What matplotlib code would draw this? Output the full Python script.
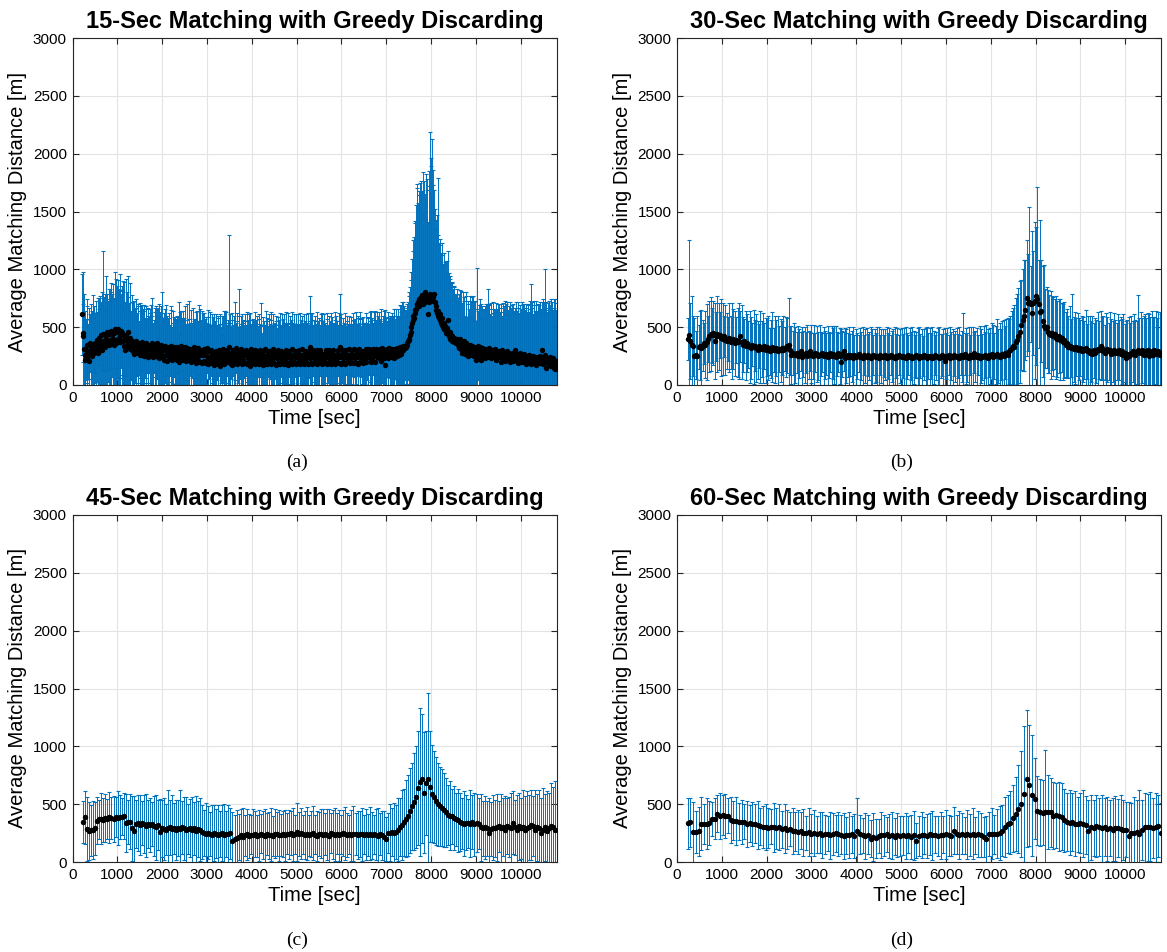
import numpy as np
import matplotlib
matplotlib.use("Agg")
import matplotlib.pyplot as plt

# ---- data ----
titles = ["15-Sec Matching with Greedy Discarding",
          "30-Sec Matching with Greedy Discarding",
          "45-Sec Matching with Greedy Discarding",
          "60-Sec Matching with Greedy Discarding"]
captions = ["(a)", "(b)", "(c)", "(d)"]

# time axis: first sample, last sample, step [sec]
t15 = np.arange(210, 10801, 15)
t30 = np.arange(240, 10801, 30)
t45 = np.arange(240, 10771, 45)
t60 = np.arange(240, 10801, 60)

mean15 = [
    610, 420, 450, 310, 260, 220, 300, 240, 350, 290, 210, 270, 360, 280, 330, 250, 300, 350, 280, 320,
    360, 300, 330, 390, 280, 370, 410, 320, 350, 430, 300, 380, 440, 340, 390, 330, 420, 460, 360, 380,
    350, 440, 390, 470, 360, 430, 400, 350, 450, 480, 390, 360, 460, 400, 480, 410, 370, 440, 470, 380,
    450, 380, 340, 420, 300, 400, 430, 350, 460, 370, 330, 310, 410, 340, 300, 380, 290, 360, 270, 340,
    380, 300, 350, 280, 360, 320, 260, 350, 300, 270, 370, 290, 330, 250, 320, 360, 280, 340, 240, 310,
    350, 270, 320, 260, 360, 300, 240, 330, 280, 350, 250, 300, 360, 280, 230, 330, 300, 260, 350, 290,
    250, 320, 220, 300, 340, 260, 310, 210, 280, 330, 240, 300, 340, 260, 220, 310, 270, 330, 240, 300,
    290, 220, 330, 260, 310, 200, 280, 340, 240, 290, 310, 220, 270, 330, 250, 210, 300, 320, 240, 270,
    230, 310, 270, 200, 300, 250, 330, 220, 280, 190, 300, 250, 320, 220, 270, 200, 300, 260, 190, 280,
    260, 310, 210, 290, 190, 260, 320, 230, 180, 290, 240, 210, 300, 190, 270, 240, 170, 280, 220, 290,
    200, 280, 250, 180, 300, 220, 160, 260, 290, 200, 310, 230, 180, 280, 250, 200, 300, 220, 270, 330,
    240, 190, 280, 220, 170, 300, 250, 200, 280, 320, 220, 180, 260, 300, 200, 280, 230, 310, 180, 260,
    220, 290, 190, 260, 300, 180, 270, 230, 290, 200, 160, 260, 310, 220, 190, 280, 250, 180, 300, 230,
    260, 200, 290, 230, 180, 300, 220, 270, 190, 290, 170, 250, 230, 310, 200, 260, 180, 290, 240, 200,
    290, 230, 180, 260, 310, 200, 240, 290, 170, 260, 230, 190, 300, 260, 180, 230, 290, 200, 270, 240,
    180, 270, 230, 300, 200, 260, 170, 240, 290, 200, 270, 230, 180, 310, 240, 200, 260, 290, 180, 240,
    270, 200, 240, 300, 180, 260, 230, 200, 310, 240, 270, 180, 230, 290, 200, 260, 240, 180, 290, 330,
    230, 190, 270, 180, 300, 230, 270, 200, 240, 300, 180, 260, 210, 240, 300, 260, 200, 180, 270, 230,
    200, 270, 230, 300, 180, 240, 270, 200, 300, 230, 180, 270, 210, 240, 300, 260, 180, 240, 200, 270,
    230, 300, 190, 260, 330, 240, 180, 270, 300, 200, 240, 270, 180, 300, 230, 200, 260, 310, 230, 190,
    270, 230, 300, 190, 260, 310, 230, 190, 270, 300, 180, 240, 310, 260, 200, 290, 230, 270, 190, 290,
    230, 270, 310, 200, 290, 240, 270, 310, 230, 290, 200, 260, 230, 310, 260, 290, 200, 260, 310, 240,
    290, 260, 230, 310, 260, 210, 280, 320, 250, 230, 300, 170, 280, 250, 310, 230, 280, 320, 250, 300,
    270, 240, 310, 290, 230, 270, 310, 260, 250, 320, 280, 260, 300, 330, 270, 310, 290, 340, 300, 320,
    320, 340, 330, 360, 350, 380, 400, 390, 430, 460, 500, 540, 560, 600, 580, 620, 650, 660, 700, 690,
    720, 680, 740, 700, 760, 730, 780, 740, 700, 760, 800, 720, 770, 740, 780, 610, 750, 720, 790, 760,
    740, 780, 730, 760, 790, 720, 680, 650, 620, 640, 600, 580, 610, 560, 540, 580, 520, 500, 540, 480,
    510, 470, 450, 490, 560, 440, 420, 460, 400, 430, 380, 420, 400, 370, 410, 390, 360, 380, 400, 350,
    380, 320, 360, 400, 310, 350, 280, 340, 380, 300, 270, 360, 320, 290, 350, 250, 330, 280, 350, 300,
    260, 340, 300, 250, 330, 290, 220, 320, 270, 340, 240, 290, 330, 260, 220, 320, 280, 240, 310, 230,
    310, 280, 240, 300, 270, 320, 250, 290, 230, 270, 300, 260, 280, 240, 310, 270, 220, 290, 260, 250,
    290, 240, 270, 200, 260, 300, 230, 280, 250, 210, 270, 240, 290, 220, 260, 280, 240, 200, 270, 250,
    230, 280, 210, 260, 240, 300, 220, 270, 250, 190, 260, 230, 280, 240, 200, 260, 230, 270, 210, 250,
    220, 180, 250, 230, 200, 260, 210, 240, 180, 230, 200, 250, 220, 190, 240, 210, 170, 230, 200, 240,
    210, 250, 190, 230, 300, 220, 180, 240, 200, 260, 210, 150, 230, 190, 220, 170, 240, 200, 160, 220,
    180, 230, 150, 200, 140, 210, 170]
err15 = [
    350, 560, 250, 480, 310, 420, 260, 500, 330, 240, 460, 300, 250, 420, 280, 390, 480, 230, 400, 300,
    260, 430, 300, 220, 470, 380, 250, 450, 340, 290, 500, 780, 310, 420, 270, 460, 520, 330, 430, 350,
    480, 300, 440, 330, 520, 360, 470, 380, 300, 500, 350, 560, 400, 510, 330, 420, 590, 380, 320, 480,
    360, 520, 330, 470, 420, 320, 490, 450, 300, 570, 380, 330, 470, 300, 480, 340, 430, 280, 460, 320,
    290, 440, 270, 400, 340, 230, 450, 290, 380, 420, 250, 370, 310, 440, 260, 300, 400, 240, 430, 290,
    250, 390, 300, 430, 240, 450, 300, 230, 390, 280, 430, 250, 310, 380, 470, 260, 330, 420, 240, 510,
    330, 240, 400, 260, 320, 430, 230, 390, 300, 250, 380, 220, 310, 420, 280, 230, 370, 260, 330, 290,
    270, 380, 230, 330, 410, 250, 350, 220, 400, 290, 250, 420, 310, 230, 430, 320, 260, 380, 290, 460,
    340, 230, 380, 300, 240, 420, 220, 350, 290, 440, 240, 390, 230, 330, 420, 250, 360, 300, 450, 230,
    360, 240, 410, 280, 400, 250, 220, 360, 470, 240, 390, 300, 220, 420, 250, 350, 440, 230, 330, 220,
    410, 240, 330, 420, 220, 310, 450, 240, 310, 230, 290, 410, 250, 360, 290, 430, 220, 340, 250, 970,
    300, 420, 230, 340, 450, 220, 350, 520, 240, 220, 330, 440, 240, 300, 630, 230, 370, 220, 430, 280,
    340, 230, 420, 290, 220, 450, 240, 330, 220, 410, 460, 250, 220, 340, 380, 240, 300, 450, 220, 330,
    270, 400, 220, 340, 430, 230, 300, 440, 260, 220, 420, 300, 260, 210, 440, 290, 400, 220, 330, 410,
    240, 330, 450, 260, 210, 410, 300, 240, 430, 290, 260, 400, 220, 300, 440, 270, 220, 410, 250, 330,
    430, 260, 310, 220, 430, 270, 450, 300, 220, 400, 260, 330, 450, 210, 300, 410, 260, 220, 430, 290,
    250, 410, 290, 220, 440, 260, 330, 400, 210, 300, 250, 430, 320, 220, 410, 270, 300, 440, 230, 440,
    320, 420, 240, 440, 220, 330, 280, 400, 290, 220, 450, 290, 370, 250, 220, 300, 410, 440, 250, 320,
    410, 250, 310, 220, 440, 330, 250, 400, 220, 320, 440, 260, 380, 300, 220, 270, 450, 320, 400, 250,
    320, 220, 430, 260, 460, 340, 430, 250, 220, 380, 300, 260, 440, 210, 320, 400, 260, 220, 370, 330,
    260, 360, 220, 430, 300, 240, 340, 440, 260, 220, 420, 340, 230, 310, 430, 220, 350, 260, 400, 250,
    310, 260, 220, 420, 250, 350, 310, 220, 400, 260, 440, 300, 350, 220, 280, 340, 440, 300, 220, 390,
    250, 340, 400, 240, 310, 450, 260, 220, 350, 410, 250, 480, 300, 340, 240, 400, 300, 260, 350, 300,
    320, 380, 250, 310, 430, 330, 260, 400, 350, 280, 380, 340, 270, 360, 410, 320, 430, 330, 420, 360,
    280, 300, 320, 310, 350, 340, 400, 380, 420, 450, 480, 550, 600, 650, 700, 800, 750, 900, 1000, 1050,
    850, 1000, 900, 1050, 1000, 950, 900, 1100, 800, 1000, 850, 900, 1050, 950, 1000, 800, 1100, 1000, 1400, 1200,
    1150, 1350, 1000, 1100, 900, 800, 750, 700, 850, 1150, 700, 650, 600, 700, 600, 650, 600, 550, 600, 550,
    550, 600, 520, 580, 600, 500, 550, 480, 520, 450, 500, 470, 430, 480, 450, 400, 420, 380, 430, 400,
    350, 470, 330, 420, 500, 360, 320, 460, 380, 430, 330, 410, 480, 300, 380, 450, 330, 300, 420, 430,
    340, 420, 470, 310, 390, 440, 330, 690, 390, 300, 450, 350, 410, 320, 480, 360, 300, 420, 340, 450,
    330, 420, 460, 330, 560, 370, 450, 320, 480, 390, 300, 460, 340, 420, 310, 380, 490, 340, 400, 450,
    330, 460, 360, 500, 410, 300, 480, 350, 430, 520, 340, 460, 320, 500, 390, 330, 440, 520, 350, 420,
    460, 340, 490, 380, 430, 310, 500, 370, 420, 530, 360, 460, 330, 420, 520, 360, 470, 330, 490, 400,
    450, 520, 380, 460, 500, 370, 520, 420, 690, 440, 520, 360, 470, 540, 400, 480, 560, 410, 500, 390,
    480, 360, 530, 430, 330, 500, 560, 420, 520, 740, 440, 570, 400, 520, 450, 560, 380, 490, 580, 430,
    540, 420, 590, 470, 600, 440, 540]

mean30 = [
    400, 430, 380, 350, 340, 250, 260, 250, 330, 340, 320, 340, 360, 350, 370, 400, 420, 440, 430, 450,
    380, 420, 440, 420, 430, 410, 400, 420, 390, 380, 400, 410, 370, 380, 400, 360, 390, 370, 380, 420,
    370, 350, 380, 340, 360, 350, 330, 320, 350, 330, 340, 320, 300, 340, 330, 310, 320, 340, 300, 330,
    320, 290, 310, 330, 300, 310, 320, 290, 310, 300, 320, 300, 310, 330, 340, 350, 300, 260, 280, 270,
    260, 280, 250, 270, 290, 240, 270, 260, 280, 250, 260, 290, 270, 250, 260, 280, 270, 250, 260, 270,
    280, 250, 260, 270, 240, 260, 280, 250, 270, 260, 240, 270, 280, 250, 200, 270, 290, 230, 250, 260,
    240, 260, 250, 230, 260, 240, 250, 270, 240, 250, 230, 260, 250, 240, 260, 250, 230, 240, 260, 250,
    240, 250, 230, 260, 250, 240, 250, 260, 230, 250, 240, 260, 250, 240, 230, 250, 240, 260, 250, 240,
    250, 240, 230, 250, 260, 240, 250, 230, 240, 250, 260, 240, 230, 250, 240, 250, 260, 240, 230, 250,
    240, 250, 230, 240, 260, 250, 240, 230, 250, 260, 240, 210, 250, 240, 260, 230, 250, 240, 260, 250,
    240, 250, 230, 260, 250, 240, 270, 250, 240, 230, 260, 250, 240, 280, 250, 240, 260, 230, 250, 240,
    250, 260, 240, 230, 260, 250, 270, 240, 250, 260, 270, 250, 240, 260, 270, 250, 280, 270, 260, 290,
    300, 320, 340, 330, 370, 390, 420, 460, 520, 560, 600, 650, 750, 710, 720, 700, 620, 710, 730, 770,
    740, 700, 630, 640, 550, 510, 490, 500, 460, 440, 430, 450, 420, 440, 410, 400, 420, 390, 410, 370,
    390, 350, 360, 330, 340, 320, 330, 310, 320, 330, 300, 310, 320, 290, 310, 300, 320, 290, 300, 280,
    290, 270, 300, 280, 290, 310, 300, 340, 320, 290, 280, 300, 310, 290, 300, 270, 290, 300, 280, 290,
    280, 300, 270, 290, 260, 280, 230, 270, 250, 260, 280, 290, 270, 260, 280, 300, 290, 280, 300, 260,
    270, 290, 300, 250, 280, 290, 260, 300, 280, 270, 290, 260, 280]
err30 = [
    180, 820, 330, 420, 260, 330, 210, 350, 190, 300, 330, 220, 180, 290, 330, 200, 310, 320, 240, 280,
    330, 210, 330, 290, 200, 330, 310, 180, 300, 240, 190, 300, 230, 330, 260, 280, 200, 300, 330, 220,
    320, 240, 190, 300, 250, 200, 310, 270, 190, 320, 220, 290, 250, 190, 310, 240, 300, 200, 280, 250,
    280, 200, 250, 300, 190, 290, 240, 310, 200, 270, 230, 300, 190, 260, 240, 400, 210, 250, 190, 270,
    240, 180, 260, 210, 170, 260, 200, 240, 180, 270, 210, 170, 250, 200, 260, 170, 240, 210, 260, 190,
    170, 250, 210, 180, 270, 200, 170, 260, 220, 250, 270, 190, 170, 240, 280, 200, 170, 260, 230, 190,
    260, 180, 220, 270, 170, 240, 200, 160, 250, 210, 270, 170, 230, 250, 180, 210, 270, 240, 170, 230,
    210, 250, 270, 170, 230, 240, 180, 220, 270, 200, 250, 170, 220, 240, 270, 190, 250, 170, 230, 250,
    190, 250, 270, 200, 170, 250, 210, 270, 230, 180, 200, 250, 270, 190, 240, 170, 220, 250, 270, 200,
    250, 200, 270, 230, 170, 210, 250, 270, 190, 180, 240, 280, 200, 250, 170, 270, 210, 240, 180, 220,
    250, 190, 270, 170, 220, 380, 180, 240, 210, 270, 170, 250, 260, 180, 220, 250, 170, 280, 230, 200,
    260, 200, 280, 250, 190, 240, 270, 280, 200, 250, 300, 230, 300, 220, 280, 310, 230, 300, 320, 280,
    300, 320, 330, 360, 380, 400, 420, 440, 390, 440, 480, 430, 500, 420, 820, 330, 710, 450, 680, 600,
    970, 380, 800, 440, 480, 530, 340, 350, 360, 340, 380, 320, 340, 300, 360, 330, 320, 350, 300, 330,
    330, 280, 300, 270, 340, 250, 460, 280, 310, 250, 320, 270, 240, 310, 280, 250, 330, 240, 300, 320,
    260, 330, 240, 300, 270, 320, 250, 300, 270, 310, 240, 320, 280, 250, 330, 300, 260, 320, 280, 250,
    330, 260, 320, 280, 350, 250, 320, 290, 340, 280, 320, 260, 340, 300, 270, 480, 290, 350, 280, 340,
    340, 290, 320, 360, 310, 350, 330, 290, 360, 310, 340, 370, 330]

mean45 = [
    344, 387, 286, 270, 275, 280, 290, 358, 370, 375, 365, 380, 372, 385, 378, 370, 388, 380, 385, 390,
    400, 340, 345, 350, 290, 270, 330, 335, 320, 340, 330, 315, 330, 320, 325, 310, 300, 320, 257, 290,
    285, 280, 295, 300, 285, 290, 280, 295, 285, 300, 290, 275, 285, 295, 280, 290, 270, 285, 280, 260,
    250, 240, 255, 245, 235, 250, 245, 230, 240, 250, 235, 245, 240, 250, 185, 200, 210, 215, 230, 220,
    230, 240, 225, 235, 230, 240, 225, 230, 245, 235, 225, 240, 230, 235, 225, 245, 240, 230, 235, 240,
    230, 245, 240, 250, 235, 240, 260, 245, 250, 240, 235, 245, 230, 240, 250, 235, 225, 240, 245, 230,
    240, 235, 225, 250, 240, 235, 245, 230, 240, 250, 245, 235, 240, 230, 245, 240, 235, 245, 240, 235,
    240, 235, 245, 230, 240, 235, 225, 240, 230, 215, 200, 250, 255, 260, 250, 260, 280, 300, 320, 345,
    375, 400, 445, 480, 520, 560, 640, 690, 720, 600, 680, 720, 650, 590, 560, 530, 500, 480, 470, 450,
    430, 410, 400, 395, 380, 370, 360, 345, 335, 330, 340, 335, 330, 345, 325, 340, 330, 300, 290, 300,
    290, 250, 285, 295, 290, 300, 310, 290, 300, 280, 310, 300, 290, 340, 300, 280, 310, 290, 300, 280,
    290, 300, 320, 310, 280, 300, 290, 250, 280, 300, 270, 290, 310, 300, 280]
err45 = [
    180, 230, 280, 250, 220, 250, 230, 200, 170, 220, 190, 210, 170, 220, 180, 200, 170, 230, 190, 160,
    200, 250, 190, 240, 280, 300, 210, 240, 260, 190, 250, 270, 210, 230, 190, 260, 280, 220, 290, 250,
    270, 220, 330, 240, 290, 220, 260, 240, 335, 230, 270, 290, 220, 250, 280, 230, 300, 240, 270, 230,
    200, 270, 230, 190, 260, 240, 210, 260, 200, 240, 270, 200, 250, 220, 250, 210, 240, 200, 230, 250,
    180, 220, 190, 170, 230, 200, 180, 220, 170, 210, 230, 180, 200, 230, 170, 210, 190, 220, 180, 200,
    220, 180, 210, 190, 230, 170, 250, 190, 220, 170, 210, 230, 180, 200, 230, 170, 220, 190, 210, 230,
    180, 220, 230, 170, 210, 230, 180, 220, 170, 200, 230, 190, 170, 220, 240, 180, 210, 200, 230, 170,
    220, 180, 230, 200, 170, 220, 240, 180, 210, 230, 190, 170, 250, 210, 260, 230, 270, 250, 300, 290,
    330, 350, 370, 380, 420, 440, 490, 640, 560, 520, 450, 745, 480, 420, 400, 380, 360, 340, 330, 320,
    300, 260, 300, 240, 280, 230, 270, 250, 220, 280, 240, 210, 290, 230, 270, 250, 220, 290, 240, 270,
    240, 300, 230, 280, 250, 290, 220, 300, 250, 290, 240, 260, 310, 270, 240, 300, 290, 260, 320, 290,
    320, 280, 300, 260, 340, 290, 330, 300, 360, 290, 340, 310, 370, 350, 420]

mean60 = [
    335, 342, 257, 258, 265, 330, 328, 332, 335, 373, 375, 416, 400, 405, 398, 400, 360, 358, 355, 350,
    345, 350, 330, 335, 325, 330, 320, 310, 305, 300, 295, 305, 300, 290, 300, 285, 290, 280, 285, 270,
    265, 260, 270, 255, 250, 260, 245, 250, 240, 255, 235, 240, 245, 230, 240, 250, 245, 235, 225, 230,
    235, 240, 228, 270, 240, 230, 225, 235, 200, 215, 205, 225, 235, 230, 240, 225, 230, 220, 235, 225,
    230, 225, 235, 220, 230, 185, 225, 235, 230, 225, 240, 230, 235, 225, 230, 235, 240, 230, 225, 272,
    240, 235, 245, 230, 240, 235, 245, 230, 240, 230, 215, 200, 245, 243, 240, 245, 250, 272, 300, 330,
    340, 380, 416, 460, 503, 590, 720, 662, 575, 546, 445, 430, 425, 430, 435, 430, 400, 405, 395, 390,
    360, 344, 340, 345, 330, 325, 335, 330, 320, 266, 300, 295, 310, 300, 290, 300, 285, 295, 280, 290,
    295, 285, 275, 280, 228, 250, 255, 260, 243, 280, 300, 300, 305, 295, 300, 310, 250]
err60 = [
    220, 210, 260, 180, 210, 230, 170, 220, 190, 150, 180, 160, 200, 170, 190, 150, 200, 170, 210, 160,
    190, 150, 200, 160, 190, 170, 210, 160, 180, 200, 170, 150, 210, 180, 200, 160, 210, 170, 150, 200,
    170, 190, 160, 200, 150, 210, 170, 200, 160, 180, 200, 170, 150, 200, 180, 160, 190, 170, 200, 160,
    200, 160, 190, 285, 170, 150, 200, 170, 160, 210, 170, 150, 200, 180, 150, 190, 200, 160, 190, 170,
    170, 200, 160, 190, 210, 150, 170, 200, 160, 190, 180, 210, 160, 170, 200, 160, 210, 180, 170, 200,
    170, 210, 180, 160, 210, 180, 220, 160, 200, 190, 170, 200, 190, 220, 170, 210, 230, 220, 260, 250,
    270, 290, 320, 380, 460, 590, 590, 520, 520, 350, 300, 290, 280, 540, 320, 300, 290, 280, 300, 290,
    270, 250, 280, 250, 280, 240, 260, 290, 250, 270, 280, 240, 270, 250, 290, 250, 280, 240, 270, 280,
    250, 290, 260, 240, 290, 260, 310, 280, 380, 260, 300, 290, 300, 260, 300, 270, 260]

times = [t15, t30, t45, t60]
means = [mean15, mean30, mean45, mean60]
errs = [err15, err30, err45, err60]

# ---- figure ----
plt.rcParams['font.family'] = ['Liberation Sans', 'DejaVu Sans']
bar_color = '#0072BD'
axis_color = '#262626'

fig = plt.figure(figsize=(11.67, 9.52), dpi=100)
W, H = 1167.0, 952.0
# axes boxes in pixels: left, top
boxes = [(72.5, 38), (677, 38), (72.5, 515), (677, 515)]
box_w, box_h = 484, 347
caption_pos = [(297, 462), (902, 462), (297, 940), (902, 940)]

for k in range(4):
    left, top = boxes[k]
    ax = fig.add_axes([left / W, 1 - (top + box_h) / H, box_w / W, box_h / H])
    ax.errorbar(times[k], means[k], yerr=errs[k], fmt='none', ecolor=bar_color,
                elinewidth=0.7, capsize=1.7, capthick=0.8, zorder=2)
    ax.plot(times[k], means[k], 'o', color='black', markersize=3.9,
            markeredgewidth=0, zorder=3)
    ax.set_xlim(0, 10800)
    ax.set_ylim(0, 3000)
    ax.set_xticks(np.arange(0, 10001, 1000))
    ax.set_yticks(np.arange(0, 3001, 500))
    ax.grid(True, color='#e3e3e3', linewidth=0.8)
    ax.set_axisbelow(True)
    ax.tick_params(direction='in', top=True, right=True, length=4, width=0.8,
                   color=axis_color, labelsize=11, labelcolor='black', pad=4)
    for s in ax.spines.values():
        s.set_color(axis_color)
        s.set_linewidth(0.8)
    ax.set_title(titles[k], fontsize=17, fontweight='bold', pad=7)
    ax.set_xlabel('Time [sec]', fontsize=14.5, labelpad=3)
    ax.set_ylabel('Average Matching Distance [m]', fontsize=14.5, labelpad=4)
    cx, cy = caption_pos[k]
    fig.text(cx / W, 1 - cy / H, captions[k], ha='center', va='center',
             fontsize=14, family=['Liberation Serif', 'DejaVu Serif'])

fig.savefig('out.png', dpi=100)
